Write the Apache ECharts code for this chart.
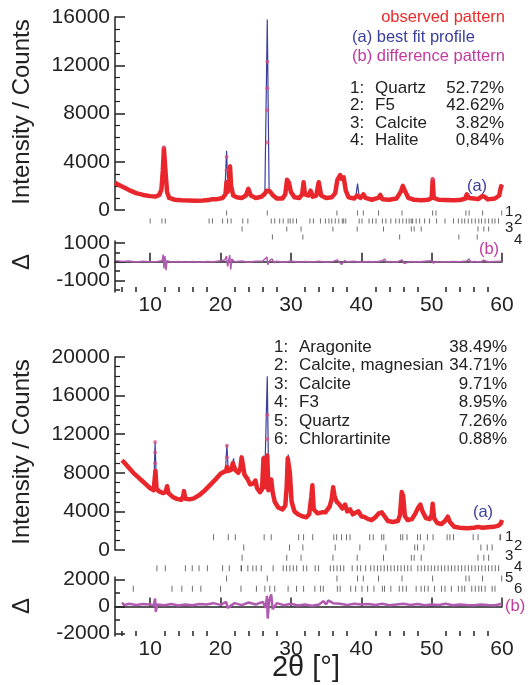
<!DOCTYPE html>
<html>
<head>
<meta charset="utf-8">
<script src="https://cdn.jsdelivr.net/npm/echarts@6/dist/echarts.min.js"></script>
<style>
  html, body { margin: 0; padding: 0; background: #fff; }
  #chart { width: 528px; height: 685px; }
</style>
</head>
<body>
<div id="chart"></div>
<script>
// ---------- top sample (Quartz / F5 / Calcite / Halite) ----------
var obsTop = [
  [5.0, 2250], [5.5, 2100], [6.0, 1950], [6.5, 1800], [7.0, 1650], [8.0, 1400], [9.0, 1250],
  [10.0, 1150], [10.8, 1120], [11.3, 1250], [11.6, 1700], [11.8, 3300], [11.95, 5100], [12.05, 5000],
  [12.2, 3000], [12.4, 1500], [12.7, 1000], [13.5, 850], [14.5, 800], [15.5, 780], [16.5, 760],
  [17.5, 780], [18.3, 820], [18.8, 900], [19.5, 900], [20.3, 1000], [20.7, 1300], [20.85, 2300],
  [21.0, 1500], [21.2, 2200], [21.35, 3600], [21.5, 2000], [21.8, 1200], [22.3, 1050], [23.0, 1000],
  [23.6, 1200], [23.95, 1750], [24.3, 1200], [25.0, 1000], [25.8, 1100], [26.3, 1350], [26.55, 1600],
  [26.75, 1700], [27.0, 1550], [27.4, 1250], [28.0, 950], [28.8, 950], [29.2, 1300], [29.45, 2500],
  [29.7, 2300], [30.0, 1500], [30.5, 1050], [31.2, 1000], [31.6, 1300], [31.8, 2300], [32.0, 1300],
  [32.5, 1200], [32.8, 1600], [33.1, 1100], [33.6, 1200], [33.95, 2300], [34.3, 1200], [35.0, 1000],
  [35.8, 1050], [36.3, 1400], [36.6, 2500], [36.8, 2600], [37.0, 2900], [37.2, 2600], [37.5, 2700],
  [37.8, 1600], [38.2, 1050], [39.0, 950], [39.4, 1200], [39.6, 1300], [39.9, 1000], [40.3, 1300],
  [40.6, 1000], [41.5, 850], [42.4, 1000], [42.7, 1250], [43.0, 900], [44.0, 850], [45.0, 950],
  [45.6, 1500], [45.9, 2000], [46.2, 1600], [46.7, 1000], [47.5, 850], [48.5, 800], [49.5, 850],
  [50.0, 1000], [50.15, 2500], [50.3, 1000], [51.0, 850], [52.0, 820], [53.0, 800], [54.0, 820],
  [54.8, 950], [55.0, 1300], [55.3, 1000], [56.0, 950], [56.6, 900], [57.2, 1150], [57.5, 1100],
  [58.0, 880], [59.0, 950], [59.6, 1200], [59.85, 1900], [60.0, 2100]
];
var fitTop = [
  [11.6, 1700], [11.95, 5250], [12.2, 3000], [12.4, '-'],
  [20.6, 1300], [20.86, 4900], [21.05, 1500], [21.2, 2200], [21.36, 3800], [21.55, 1800], [21.8, 1200], [21.9, '-'],
  [26.3, 1350], [26.64, 15800], [26.9, 1600], [27.0, '-'],
  [31.6, 1300], [31.8, 2350], [32.0, 1300], [32.1, '-'],
  [36.3, 1400], [36.55, 2400], [36.8, 2500], [36.9, '-'],
  [39.2, 1000], [39.47, 2200], [39.7, 1100], [39.8, '-'],
  [49.9, 1000], [50.14, 2650], [50.4, 1000], [50.5, '-'],
  [59.7, 1500], [59.96, 2150]
];
var dotsTop = [
  [11.95, 5200], [20.86, 3300], [20.86, 4400], [26.64, 5600], [26.64, 8300], [26.64, 10100],
  [26.64, 12300], [50.14, 2600]
];
var diffTop = [
  [5.2, 60], [6, 20], [7, 40], [8, -10], [9, 30], [10, 0], [11, 20], [11.7, 60], [11.85, 380],
  [11.95, -350], [12.1, 300], [12.25, -450], [12.4, 60], [13, -20], [14, 20], [15, -30], [16, 10],
  [17, -20], [18, 20], [19, 0], [20, 60], [20.6, 100], [20.85, 300], [21.0, -250], [21.3, 350],
  [21.45, -400], [21.6, 150], [22, 0], [23, 40], [24, -20], [25, 30], [26, 40], [26.6, 250],
  [26.7, -150], [27, 80], [27.3, 150], [27.6, -50], [28, 30], [29, -20], [30, 40], [31, -30],
  [32, 20], [33, -10], [34, 30], [35, -20], [36, 20], [36.6, 100], [37.2, -150], [37.6, 60],
  [38, 0], [39, 30], [40, -20], [41, 20], [42, -10], [43, 50], [43.3, 150], [43.6, -20], [44, 20],
  [45, -20], [45.8, 100], [46.1, -100], [47, 20], [48, -10], [49, 30], [50, 60], [50.2, -60],
  [51, 20], [52, -10], [53, 20], [54, 0], [55, 40], [55.3, 150], [55.6, -30], [56, 20], [57, -10],
  [57.4, 80], [58, 0], [59, 20], [60, 30]
];
var phasesTop = ['Quartz', 'F5', 'Calcite', 'Halite'];
var percentTop = ['52.72%', '42.62%', '3.82%', '0,84%'];
var reflTop = [
  [20.86, 26.64, 36.54, 39.47, 40.29, 42.45, 45.79, 50.14, 50.62, 54.87, 55.33, 57.24, 59.96],
  [10.0, 11.67, 12.15, 18.37, 18.85, 20.29, 21.0, 21.5, 23.16, 23.88, 27.2, 27.7, 28.4, 28.9, 29.6,
   29.9, 30.3, 30.8, 32.7, 33.2, 34.2, 34.9, 35.4, 35.8, 36.3, 36.8, 37.3, 37.5, 37.8, 39.7, 40.1,
   41.1, 41.6, 42.1, 43.0, 43.5, 44.2, 44.9, 45.4, 45.9, 46.4, 46.8, 47.1, 47.3, 47.8, 48.3, 49.0,
   49.7, 50.7, 51.9, 53.1, 53.8, 54.3, 54.7, 55.2, 55.7, 56.2, 56.7, 57.1, 57.6, 58.1, 58.6, 59.0, 59.5],
  [23.06, 29.41, 31.44, 35.97, 39.42, 43.16, 47.12, 47.52, 48.52, 56.58, 57.42, 58.10],
  [27.37, 31.70, 45.45, 53.87, 56.48]
];

// ---------- bottom sample (Aragonite / Calcite, magnesian / ...) ----------
var obsBot = [
  [6.0, 9300], [6.4, 9000], [7.0, 8500], [7.6, 8000], [8.2, 7600], [8.8, 7200], [9.4, 6800],
  [10.0, 6400], [10.5, 6200], [10.62, 7200], [10.75, 8200], [10.9, 6400], [11.2, 6100], [11.8, 5900],
  [12.2, 6000], [12.4, 6600], [12.6, 5900], [13.2, 5500], [13.8, 5300], [14.4, 5200], [14.7, 5600],
  [14.8, 6100], [15.0, 5300], [15.6, 5250], [16.2, 5350], [17.0, 5700], [17.8, 6200], [18.6, 6800],
  [19.4, 7400], [20.0, 7900], [20.5, 8100], [20.8, 8200], [20.9, 8600], [21.1, 8200], [21.5, 8300],
  [21.75, 9000], [21.9, 9200], [22.1, 8300], [22.5, 8000], [22.8, 8400], [23.0, 9600], [23.2, 9400],
  [23.4, 7800], [23.8, 7400], [24.2, 6800], [24.7, 6900], [24.95, 7200], [25.2, 6400], [25.6, 6000],
  [25.9, 6300], [26.1, 9500], [26.3, 8800], [26.45, 6500], [26.64, 9800], [26.8, 6200], [27.05, 6700],
  [27.2, 7300], [27.4, 6000], [27.7, 5000], [28.2, 4400], [28.8, 4200], [29.2, 4600], [29.4, 6500],
  [29.55, 9500], [29.7, 9700], [29.85, 8000], [30.1, 5000], [30.5, 4000], [31.0, 3700], [31.6, 3500],
  [32.2, 3400], [32.6, 3700], [32.9, 5500], [33.05, 6700], [33.25, 4200], [33.8, 3800], [34.4, 3900],
  [34.9, 3900], [35.5, 4500], [35.8, 5300], [36.0, 6500], [36.2, 5600], [36.5, 5000], [36.8, 4800],
  [37.0, 5000], [37.3, 4300], [37.7, 4700], [38.0, 4000], [38.4, 4200], [38.8, 3700], [39.3, 3900],
  [39.6, 4000], [40.0, 3500], [40.5, 3400], [41.0, 3200], [41.5, 3100], [42.0, 3400], [42.5, 3800],
  [42.9, 3900], [43.3, 3500], [43.8, 3000], [44.5, 2900], [45.2, 3000], [45.5, 3600], [45.75, 6000],
  [45.95, 5600], [46.2, 3500], [46.6, 3100], [47.2, 3200], [47.7, 3800], [48.1, 4400], [48.4, 4700],
  [48.7, 4000], [49.2, 3300], [49.7, 3200], [50.0, 3600], [50.15, 4800], [50.35, 3300], [50.8, 2800],
  [51.4, 2700], [51.9, 3000], [52.3, 3450], [52.6, 2900], [53.2, 2400], [54.0, 2300], [55.0, 2250],
  [56.0, 2300], [56.6, 2400], [57.2, 2300], [58.0, 2350], [58.8, 2400], [59.4, 2500], [59.8, 2700],
  [60.0, 3100]
];
var fitBot = [
  [10.5, 6200], [10.7, 11200], [10.9, 6300], [11.0, '-'],
  [20.7, 8100], [20.9, 10900], [21.1, 8200], [21.2, '-'],
  [21.7, 8800], [21.85, 9500], [22.0, 8500], [22.1, '-'],
  [26.0, 6300], [26.15, 9800], [26.3, 8000], [26.64, 18000], [26.85, 6300], [26.9, '-'],
  [29.4, 6400], [29.62, 9900], [29.85, 7800]
];
var dotsBot = [
  [10.7, 9000], [10.7, 10100], [10.7, 11200], [20.9, 9600], [20.9, 10800], [26.64, 11500],
  [26.64, 14000]
];
var diffBot = [
  [6, 300], [6.3, 100], [7, 200], [8, 120], [9, 180], [10, 150], [10.5, 100], [10.7, 600],
  [10.8, -400], [11, 150], [12, 100], [13, 180], [14, 80], [15, 150], [16, 100], [17, 180],
  [18, 150], [19, 250], [20, 120], [20.8, 350], [21, -100], [22, 250], [23, 100], [24, 300],
  [25, 150], [26, 350], [26.4, -100], [26.6, 800], [26.7, -900], [26.9, 400], [27.2, 900],
  [27.4, -200], [28, 250], [29, 100], [30, 200], [31, 80], [32, 150], [33, 60], [34, 150],
  [34.6, 400], [35, 150], [35.3, 450], [36, 250], [37, 200], [38, 120], [39, 200], [40, 150],
  [41, 180], [42, 120], [43, 200], [44, 100], [45, 150], [46, 200], [47, 120], [48, 180],
  [49, 100], [50, 150], [51, 120], [52, 200], [53, 100], [54, 150], [55, 120], [56, 100],
  [57, 150], [58, 120], [59, 100], [60, 200]
];
var phasesBot = ['Aragonite', 'Calcite, magnesian', 'Calcite', 'F3', 'Quartz', 'Chlorartinite'];
var percentBot = ['38.49%', '34.71%', '9.71%', '8.95%', '7.26%', '0.88%'];
var reflBot = [
  [19.0, 21.1, 22.1, 26.2, 27.2, 31.1, 31.8, 33.1, 36.1, 36.5, 37.2, 37.9, 38.4, 41.2, 41.7, 42.9,
   43.2, 45.6, 45.9, 46.5, 48.0, 48.4, 49.4, 50.2, 52.2, 52.6, 53.1, 55.9, 56.6, 59.7, 59.8],
  [23.3, 29.8, 31.7, 36.3, 39.8, 43.5, 47.6, 48.0, 48.9, 57.0, 57.9, 58.6],
  [23.06, 29.41, 31.44, 35.97, 39.42, 43.16, 47.12, 47.52, 48.52, 56.58, 57.42, 58.10],
  [10.96, 12.15, 15.0, 15.98, 16.94, 18.13, 20.29, 21.24, 22.92, 22.98, 23.88, 24.59, 25.07, 25.79,
   27.47, 28.9, 29.38, 29.86, 30.34, 30.82, 31.77, 32.25, 33.45, 33.93, 35.6, 36.08, 36.56, 37.04,
   37.51, 38.71, 39.43, 39.91, 40.62, 41.34, 41.82, 42.3, 42.78, 43.26, 43.73, 44.21, 44.69, 45.17,
   45.65, 46.13, 46.6, 47.08, 48.04, 48.52, 49.0, 49.48, 49.95, 50.43, 50.91, 51.39, 51.87, 52.35,
   52.83, 53.3, 53.78, 54.26, 54.74, 55.22, 55.7, 56.18, 56.65, 57.13, 57.61, 58.09, 58.57, 59.05, 59.52],
  [20.86, 26.64, 36.54, 39.47, 40.29, 42.45, 45.79, 50.14, 54.87, 55.33, 57.24, 59.96],
  [7.6, 13.1, 14.5, 16.0, 17.2, 20.0, 22.9, 25.1, 26.3, 27.0, 27.7, 29.6, 30.8, 31.8, 33.4, 34.2,
   34.6, 36.6, 37.0, 38.5, 39.2, 40.1, 40.9, 41.8, 43.0, 43.3, 44.2, 45.4, 45.9, 46.4, 47.8, 48.5,
   49.0, 49.5, 50.4, 51.4, 51.9, 52.8, 53.8, 54.3, 54.7, 55.7, 56.2, 56.7, 57.1, 57.6, 58.6, 59.0]
];

var xMajor = [10, 20, 30, 40, 50, 60];
var xMinor = [6, 8, 12, 14, 16, 18, 22, 24, 26, 28, 32, 34, 36, 38, 42, 44, 46, 48, 52, 54, 56, 58];

var FONT = '"Liberation Sans", Arial, sans-serif';
var RED = '#e8262c', BLUE = '#3a3f9e', MAG = '#b05ab0', INK = '#222';
var GL = 115, GW = 387;
var DH_TOP = 51, DH_BOT = 59;   // heights of the two difference panels
var plain = function (v) { return String(v); };

var chart = echarts.init(document.getElementById('chart'));

function hiddenX(grid) {
  return { type: 'value', gridIndex: grid, min: 5, max: 60, show: false };
}
// major x ticks + labels on the bottom edge
function majorX(grid) {
  return {
    type: 'value', gridIndex: grid, min: 5, max: 60, position: 'bottom',
    axisLine: { show: true, lineStyle: { color: INK, width: 1.5 } },
    axisTick: { show: true, inside: true, length: 9, customValues: xMajor, lineStyle: { color: INK, width: 1.5 } },
    axisLabel: { show: true, customValues: xMajor, margin: 3, fontSize: 21, fontFamily: FONT, color: INK,
                 showMinLabel: true, showMaxLabel: true, formatter: plain },
    splitLine: { show: false }
  };
}
// minor x ticks: a top axis pushed down onto the bottom edge, ticks pointing up
function minorX(grid, h) {
  return {
    type: 'value', gridIndex: grid, min: 5, max: 60, position: 'top', offset: -h,
    axisLine: { show: false },
    axisTick: { show: true, inside: false, length: 5, customValues: xMinor, lineStyle: { color: INK, width: 1.5 } },
    axisLabel: { show: false },
    splitLine: { show: false }
  };
}
function mainY(grid, max) {
  return {
    type: 'value', gridIndex: grid, min: 0, max: max, interval: 4000, position: 'left',
    axisLine: { show: true, lineStyle: { color: INK, width: 1.5 } },
    axisTick: { show: true, inside: true, length: 10, lineStyle: { color: INK, width: 1.5 } },
    minorTick: { show: true, splitNumber: 4, length: 5, lineStyle: { color: INK, width: 1.2 } },
    axisLabel: { margin: 5, fontSize: 21, fontFamily: FONT, color: INK, formatter: plain },
    splitLine: { show: false }
  };
}
function diffLabel(values) {
  return { show: true, customValues: values, margin: 5, fontSize: 21, fontFamily: FONT, color: INK,
           hideOverlap: false, showMinLabel: true, showMaxLabel: true, formatter: plain };
}
function majorDiffY(grid, min, max, ticks, labels) {
  return {
    type: 'value', gridIndex: grid, min: min, max: max, position: 'left',
    axisLine: { show: true, lineStyle: { color: INK, width: 1.5 } },
    axisTick: { show: true, inside: true, length: 10, customValues: ticks, lineStyle: { color: INK, width: 1.5 } },
    axisLabel: diffLabel(labels),
    splitLine: { show: false }
  };
}
// minor y ticks: a right axis pulled across onto the left edge, ticks pointing right;
// it also carries any label that would collide with the major axis's own labels
function minorDiffY(grid, min, max, ticks, labels) {
  var lab = labels.length ? diffLabel(labels) : { show: false };
  if (labels.length) lab.inside = true;
  return {
    type: 'value', gridIndex: grid, min: min, max: max, position: 'right', offset: -GW,
    axisLine: { show: false },
    axisTick: { show: true, inside: false, length: 5, customValues: ticks, lineStyle: { color: INK, width: 1.5 } },
    axisLabel: lab,
    splitLine: { show: false }
  };
}
function rowY(grid, n) {
  var cats = [];
  for (var i = 0; i < n; i++) cats.push(String(i + 1));
  return { type: 'category', gridIndex: grid, data: cats, inverse: true, show: false };
}

var series = [];
function addPanel(xi, yi, fit, obs, dots, diffXi, diffYi, diff, diffWidth) {
  series.push({ type: 'line', xAxisIndex: xi, yAxisIndex: yi, data: fit, symbol: 'none', connectNulls: false,
                lineStyle: { color: BLUE, width: 1.2 }, z: 2, silent: true });
  series.push({ type: 'line', xAxisIndex: xi, yAxisIndex: yi, data: obs, symbol: 'none',
                lineStyle: { color: RED, width: 4.5, join: 'round' }, z: 3, silent: true });
  series.push({ type: 'scatter', xAxisIndex: xi, yAxisIndex: yi, data: dots, symbolSize: 4,
                itemStyle: { color: 'rgba(225,70,120,0.85)' }, z: 4, silent: true });
  series.push({ type: 'line', xAxisIndex: diffXi, yAxisIndex: diffYi, data: diff, symbol: 'none',
                lineStyle: { color: MAG, width: diffWidth }, z: 3, silent: true });
}
function addRows(xi, yi, rows, h) {
  rows.forEach(function (row, r) {
    series.push({
      type: 'scatter', xAxisIndex: xi, yAxisIndex: yi, symbol: 'rect', symbolSize: [1, h],
      data: row.map(function (x) { return [x, r]; }),
      itemStyle: { color: '#4a4a4a' }, silent: true
    });
  });
}

// axes: top main 0, top rows 1, top diff 2(+3 minor), bottom main 4, bottom rows 5, bottom diff 6(+7 minor)
var xAxes = [
  hiddenX(0), hiddenX(1), majorX(2), minorX(2, DH_TOP),
  hiddenX(3), hiddenX(4), majorX(5), minorX(5, DH_BOT)
];
var yAxes = [
  mainY(0, 16000), rowY(1, 4),
  majorDiffY(2, -1600, 1100, [-1000, 0, 1000], [-1000, 1000]),
  minorDiffY(2, -1600, 1100, [-1500, -500, 500], [0]),
  mainY(3, 20000), rowY(4, 6),
  majorDiffY(5, -2200, 2200, [-2000, 0, 2000], [-2000, 0, 2000]),
  minorDiffY(5, -2200, 2200, [-1000, 1000], [])
];

addPanel(0, 0, fitTop, obsTop, dotsTop, 2, 2, diffTop, 1.5);
addRows(1, 1, reflTop, 5);
addPanel(4, 4, fitBot, obsBot, dotsBot, 6, 6, diffBot, 2.5);
addRows(5, 5, reflBot, 6);

function txt(x, y, s, size, color, align, rot) {
  return {
    type: 'text', x: x, y: y, rotation: rot || 0, silent: true,
    style: { text: s, fontSize: size, fontFamily: FONT, fill: color,
             align: align, textAlign: align, verticalAlign: 'middle', textVerticalAlign: 'middle' }
  };
}

var graphics = [
  txt(22, 112, 'Intensity / Counts', 24, INK, 'center', Math.PI / 2),
  txt(22, 262, 'Δ', 24, INK, 'center', Math.PI / 2),
  txt(22, 452, 'Intensity / Counts', 24, INK, 'center', Math.PI / 2),
  txt(22, 606, 'Δ', 24, INK, 'center', Math.PI / 2),
  txt(306, 668, '2θ [°]', 29, INK, 'center'),
  txt(505, 17, 'observed pattern', 16.5, '#ee2a2a', 'right'),
  txt(352, 37, '(a) best fit profile', 16.5, BLUE, 'left'),
  txt(352, 56, '(b) difference pattern', 16.5, '#c23a9e', 'left'),
  txt(477, 186, '(a)', 16.5, BLUE, 'center'),
  txt(489, 249, '(b)', 16.5, '#c23a9e', 'center'),
  txt(483, 512, '(a)', 16.5, BLUE, 'center'),
  txt(505, 606, '(b)', 16.5, '#c23a9e', 'left')
];
phasesTop.forEach(function (p, i) {
  var y = 88 + i * 17.6;
  graphics.push(txt(350, y, (i + 1) + ':', 17, INK, 'left'));
  graphics.push(txt(375, y, p, 17, INK, 'left'));
  graphics.push(txt(504, y, percentTop[i], 17, INK, 'right'));
});
phasesBot.forEach(function (p, i) {
  var y = 347 + i * 18.5;
  graphics.push(txt(274, y, (i + 1) + ':', 17, INK, 'left'));
  graphics.push(txt(299, y, p, 17, INK, 'left'));
  graphics.push(txt(507, y, percentBot[i], 17, INK, 'right'));
});
var rowLabelTop = [[505, 212], [514, 220], [505, 228], [514, 240]];
rowLabelTop.forEach(function (p, i) { graphics.push(txt(p[0], p[1], String(i + 1), 15, INK, 'left')); });
var rowLabelBot = [[505, 537], [514, 546], [505, 556], [514, 567], [505, 578], [514, 589]];
rowLabelBot.forEach(function (p, i) { graphics.push(txt(p[0], p[1], String(i + 1), 15, INK, 'left')); });

chart.setOption({
  backgroundColor: '#fff',
  animation: false,
  grid: [
    { left: GL, top: 17, width: GW, height: 193 },
    { left: GL, top: 209, width: GW, height: 32 },
    { left: GL, top: 241, width: GW, height: DH_TOP },
    { left: GL, top: 357, width: GW, height: 193 },
    { left: GL, top: 532, width: GW, height: 62 },
    { left: GL, top: 577, width: GW, height: DH_BOT }
  ],
  xAxis: xAxes,
  yAxis: yAxes,
  series: series,
  graphic: graphics
});
</script>
</body>
</html>
